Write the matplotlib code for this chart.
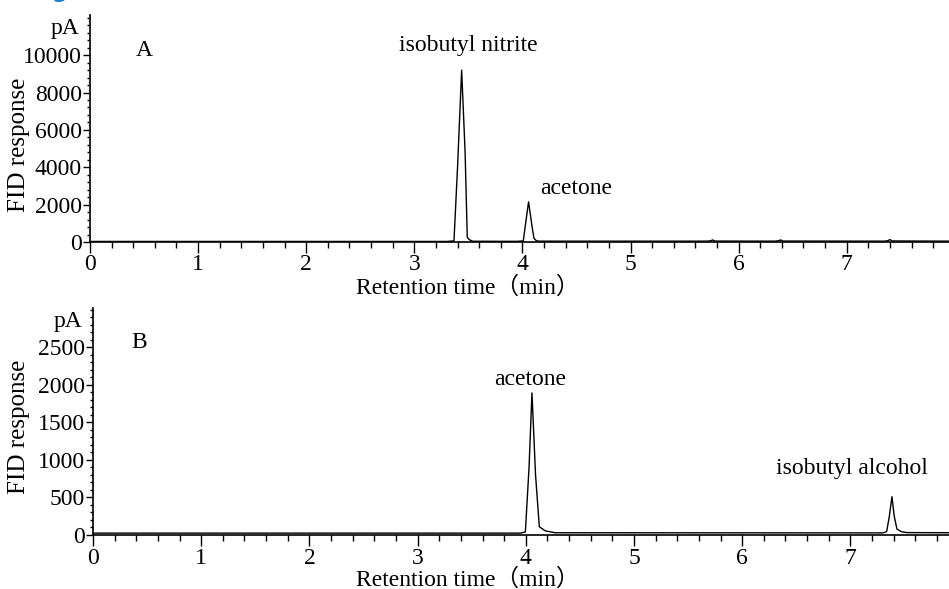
import matplotlib.pyplot as plt
from matplotlib.ticker import MultipleLocator, FixedLocator

# chromatogram A: (time [min], response [pA])
time_a = [0.0, 3.30, 3.367, 3.40, 3.438, 3.47, 3.49, 3.51, 3.54, 3.95,
          4.008, 4.057, 4.09, 4.107, 4.125, 4.145, 5.70, 5.74, 5.76, 5.78,
          6.34, 6.37, 6.39, 6.41, 7.35, 7.38, 7.40, 7.42, 7.95]
resp_a = [30, 30, 60, 4000, 9200, 4800, 250, 120, 40, 35,
          60, 2150, 800, 200, 90, 45, 45, 60, 110, 50,
          45, 70, 110, 50, 45, 70, 130, 55, 45]

# chromatogram B
time_b = [0.0, 3.95, 3.996, 4.03, 4.057, 4.09, 4.125, 4.18, 4.27, 7.30,
          7.335, 7.36, 7.384, 7.405, 7.43, 7.47, 7.52, 7.95]
resp_b = [25, 25, 40, 900, 1890, 800, 110, 55, 30, 28,
          45, 250, 510, 250, 80, 45, 32, 30]

yticks_a = [0, 2000, 4000, 6000, 8000, 10000]
yticks_b = [0, 500, 1000, 1500, 2000, 2500]

peak_labels_a = ["isobutyl nitrite", "acetone"]
peak_label_pos_a = [(3.50, 10530), (4.16, 2890)]
peak_labels_b = ["acetone", "isobutyl alcohol"]
peak_label_pos_b = [(4.04, 2064), (7.01, 879)]

plt.rcParams['font.family'] = ['Liberation Serif', 'Noto Sans CJK JP']
plt.rcParams['font.size'] = 17

W, H = 949, 589
fig = plt.figure(figsize=(W / 100, H / 100), dpi=100)


def make_axes(left, top, bottom, xmax, ymax, yticks, yminor, panel, panel_y,
              xlab_y, ylab_y):
    ax = fig.add_axes([left / W, (H - bottom) / H, (W - left) / W, (bottom - top) / H])
    ax.set_xlim(0, xmax)
    ax.set_ylim(0, ymax)
    for s in ['top', 'right']:
        ax.spines[s].set_visible(False)
    for s in ['left', 'bottom']:
        ax.spines[s].set_linewidth(1.2)
    ax.xaxis.set_major_locator(MultipleLocator(1))
    ax.xaxis.set_minor_locator(MultipleLocator(0.2))
    ax.yaxis.set_major_locator(FixedLocator(yticks))
    ax.yaxis.set_minor_locator(MultipleLocator(yminor))
    ax.tick_params(axis='x', which='major', direction='out', length=8, width=1, pad=1)
    ax.tick_params(axis='x', which='minor', direction='out', length=4, width=1)
    ax.tick_params(axis='y', which='major', direction='out', length=5, width=1, pad=1)
    ax.tick_params(axis='y', which='minor', direction='out', length=2.5, width=1)
    ax.set_xlabel("Retention time（min）", va='top')
    ax.xaxis.set_label_coords((468 - left) / (W - left), -(xlab_y - bottom) / (bottom - top))
    ax.set_ylabel("FID response", fontsize=18, va='center')
    ax.yaxis.set_label_coords((19 - left) / (W - left), (bottom - ylab_y) / (bottom - top))
    ax.text(-0.012 * xmax, ymax * 0.94, "pA", ha='right', va='center',
            transform=ax.transData, clip_on=False)
    ax.text(panel[0], panel_y, panel[1], ha='center', va='center')
    return ax


ax1 = make_axes(90, 15, 242, (W - 90) / 108.1, 12150, yticks_a, 400, (0.5, "A"), 10270,
                276, 145)
ax1.plot(time_a, resp_a, color='black', lw=1.0)
for lab, (x, y) in zip(peak_labels_a, peak_label_pos_a):
    ax1.text(x, y, lab, ha='left' if lab == "acetone" else 'center', va='center')

ax2 = make_axes(93, 308, 535, (W - 93) / 108.2, 3020, yticks_b, 100, (0.425, "B"), 2557,
                568, 427)
ax2.plot(time_b, resp_b, color='black', lw=1.0)
for lab, (x, y) in zip(peak_labels_b, peak_label_pos_b):
    ax2.text(x, y, lab, ha='center', va='center')

# cut-off title glyph at the top edge
fig.text(52 / W, 1 + 1.5 / H, "g", color='#1a7fd0', fontsize=16, fontweight='bold',
         family='DejaVu Sans', va='baseline', ha='left')

fig.savefig("out.png", dpi=100)
